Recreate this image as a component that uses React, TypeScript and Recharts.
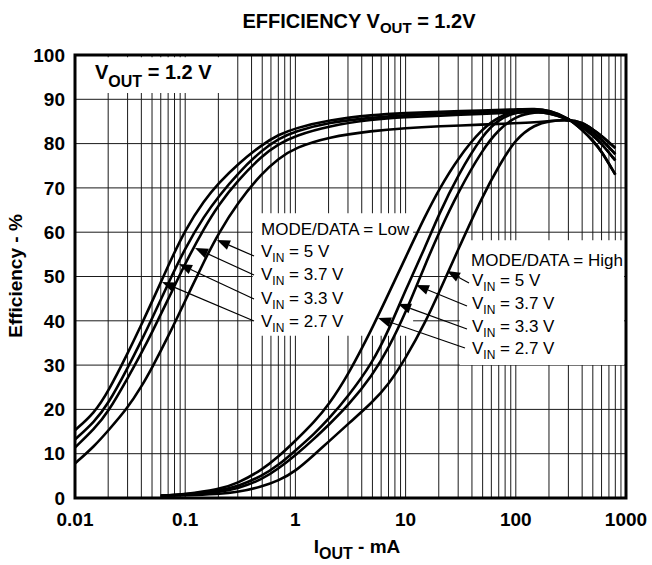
import { LineChart, Line, XAxis, YAxis, CartesianGrid, ReferenceArea } from 'recharts';

const FONT = "Arial, 'Liberation Sans', Helvetica, sans-serif";

// MODE/DATA = Low (PFM at light load), output current in mA
const lowIout = [0.01, 0.015, 0.02, 0.03, 0.04, 0.05, 0.07, 0.1, 0.15, 0.2, 0.3, 0.5, 0.7, 1, 2, 5, 10, 20, 50, 100, 150, 200, 300, 400, 500, 600, 800];
const lowEff27 = [15.3, 19.2, 24.0, 32.6, 39.1, 44.3, 52.4, 60.6, 67.3, 71.0, 75.4, 79.8, 82.0, 83.5, 85.3, 86.5, 86.9, 87.2, 87.5, 87.7, 87.9, 87.5, 85.8, 83.1, 80.7, 78.3, 73.0];
const lowEff33 = [13.2, 17.2, 21.2, 29.3, 35.5, 40.5, 48.4, 56.5, 63.8, 68.0, 73.3, 78.6, 81.1, 82.8, 84.8, 85.9, 86.4, 86.8, 87.1, 87.3, 87.6, 87.2, 85.6, 83.8, 81.9, 80.0, 76.2];
const lowEff37 = [11.4, 15.6, 19.4, 27.0, 32.7, 37.4, 44.8, 53.0, 61.1, 66.1, 71.7, 77.3, 79.9, 81.8, 84.0, 85.5, 86.0, 86.3, 86.7, 87.0, 87.2, 86.9, 85.5, 84.2, 82.6, 81.0, 77.6];
const lowEff50 = [7.8, 11.7, 15.2, 20.3, 25.1, 29.4, 36.4, 44.5, 53.7, 59.7, 66.7, 73.4, 76.6, 79.1, 81.5, 82.9, 83.5, 83.9, 84.3, 84.6, 84.8, 85.1, 85.4, 84.8, 83.2, 81.8, 79.0];

// MODE/DATA = High (forced PWM)
const highIout = [0.06, 0.1, 0.2, 0.3, 0.5, 0.7, 1, 1.5, 2, 3, 5, 7, 10, 15, 20, 30, 50, 70, 100, 150, 200, 300, 400, 500, 600, 800];
const highEff27 = [0.5, 0.85, 1.9, 3.3, 6.4, 9.3, 12.9, 17.3, 21.0, 27.7, 38.4, 46.1, 54.3, 63.6, 69.6, 76.8, 83.5, 86.0, 87.5, 87.9, 87.5, 85.8, 83.1, 80.7, 78.3, 73.0];
const highEff33 = [0.5, 0.8, 1.6, 2.6, 5.0, 7.4, 10.7, 14.6, 17.8, 22.9, 30.5, 37.8, 47.0, 56.5, 64.0, 73.0, 82.0, 85.5, 87.1, 87.6, 87.2, 85.6, 83.8, 81.9, 80.0, 76.2];
const highEff37 = [0.5, 0.7, 1.3, 2.1, 4.2, 6.6, 9.6, 13.5, 16.5, 20.8, 27.7, 33.8, 41.8, 52.6, 59.8, 69.1, 78.7, 83.2, 86.2, 87.2, 86.9, 85.5, 84.2, 82.6, 81.0, 77.6];
const highEff50 = [0.5, 0.6, 0.9, 1.3, 2.6, 3.9, 6.0, 9.9, 12.7, 16.7, 21.6, 25.6, 31.5, 39.5, 46.3, 56.1, 68.2, 74.9, 81.2, 84.3, 85.1, 85.4, 84.8, 83.2, 81.8, 79.0];

const xDecades = [0.01, 0.1, 1, 10, 100, 1000];
const xDecadeLabels = ['0.01', '0.1', '1', '10', '100', '1000'];
const yTicks = [0, 10, 20, 30, 40, 50, 60, 70, 80, 90, 100];
const vinLabels = ['5 V', '3.7 V', '3.3 V', '2.7 V'];

// every 1..9 step of each decade, so the grid gets its minor lines
const xGridTicks: number[] = [];
xDecades.slice(0, -1).forEach(d => {
    for (let k = 1; k < 10; k++) xGridTicks.push(Number((d * k).toPrecision(3)));
});
xGridTicks.push(1000);

const toPoints = (xs: number[], ys: number[]) => xs.map((x, i) => ({ x, y: ys[i] }));

const series = [
    { key: 'low27', data: toPoints(lowIout, lowEff27) },
    { key: 'low33', data: toPoints(lowIout, lowEff33) },
    { key: 'low37', data: toPoints(lowIout, lowEff37) },
    { key: 'low50', data: toPoints(lowIout, lowEff50) },
    { key: 'high27', data: toPoints(highIout, highEff27) },
    { key: 'high33', data: toPoints(highIout, highEff33) },
    { key: 'high37', data: toPoints(highIout, highEff37) },
    { key: 'high50', data: toPoints(highIout, highEff50) },
];

// annotation arrows (page pixels), same order as vinLabels
const lowArrows = [
    { tip: [217, 240], tail: [254, 256] },
    { tip: [195, 248], tail: [254, 275] },
    { tip: [179, 264], tail: [254, 299] },
    { tip: [162, 282], tail: [254, 321] },
];
const highArrows = [
    { tip: [447, 271], tail: [469, 283] },
    { tip: [416, 285], tail: [467, 306] },
    { tip: [398, 304], tail: [467, 329] },
    { tip: [378, 318], tail: [465, 348] },
];

function Arrow({ tip, tail }: { tip: number[]; tail: number[] }) {
    const [px, py] = tip;
    const [tx, ty] = tail;
    const len = Math.hypot(tx - px, ty - py);
    const ux = (tx - px) / len;
    const uy = (ty - py) / len;
    const hl = 13, hw = 5;
    const bx = px + ux * hl, by = py + uy * hl;
    const pts = `${px},${py} ${bx - uy * hw},${by + ux * hw} ${bx + uy * hw},${by - ux * hw}`;
    return (
        <g>
            <line x1={bx} y1={by} x2={tx} y2={ty} stroke="#000" strokeWidth={1.2} />
            <polygon points={pts} fill="#000" />
        </g>
    );
}

function VinText({ x, y, value }: { x: number; y: number; value: string }) {
    return (
        <text x={x} y={y} fontSize={17} fontFamily={FONT} fill="#000">
            <tspan>V</tspan>
            <tspan fontSize={12} dy={5}>IN</tspan>
            <tspan dy={-5}>{` = ${value}`}</tspan>
        </text>
    );
}

export default function App() {
    const tickStyle = { fill: '#000', fontSize: 19, fontWeight: 'bold', fontFamily: FONT };
    return (
        <div style={{ position: 'absolute', left: 0, top: 0, width: 652, height: 565, background: '#fff' }}>
            <LineChart width={652} height={565} margin={{ top: 55, right: 26, bottom: 0, left: 0 }}>
                <CartesianGrid stroke="#1a1a1a" strokeWidth={1} />
                <XAxis
                    dataKey="x"
                    type="number"
                    scale="log"
                    domain={[0.01, 1000]}
                    allowDataOverflow
                    ticks={xGridTicks}
                    interval={0}
                    tickFormatter={(v: number) => {
                        const i = xDecades.findIndex(d => Math.abs(d - v) < d * 1e-6);
                        return i >= 0 ? xDecadeLabels[i] : '';
                    }}
                    height={67}
                    tickSize={0}
                    tickMargin={15}
                    axisLine={false}
                    tick={tickStyle}
                />
                <YAxis
                    type="number"
                    domain={[0, 100]}
                    ticks={yTicks}
                    interval={0}
                    width={75}
                    tickSize={0}
                    tickMargin={10}
                    axisLine={false}
                    tick={tickStyle}
                />
                <ReferenceArea x1={0.0102} x2={0.215} y1={91.4} y2={99.5} fill="#fff" fillOpacity={1} stroke="none" />
                <ReferenceArea x1={0.41} x2={11.7} y1={36.6} y2={64.3} fill="#fff" fillOpacity={1} stroke="none" />
                <ReferenceArea x1={31} x2={960} y1={30} y2={58.2} fill="#fff" fillOpacity={1} stroke="none" />
                {series.map(s => (
                    <Line
                        key={s.key}
                        data={s.data}
                        dataKey="y"
                        type="basis"
                        stroke="#000"
                        strokeWidth={2.6}
                        dot={false}
                        activeDot={false}
                        isAnimationActive={false}
                    />
                ))}
                <ReferenceArea x1={0.01} x2={1000} y1={0} y2={100} fill="none" stroke="#000" strokeWidth={3} />
            </LineChart>

            <svg width={652} height={565} style={{ position: 'absolute', left: 0, top: 0, pointerEvents: 'none' }}>
                <text x={359} y={28} textAnchor="middle" fontSize={20} fontWeight="bold" fontFamily={FONT}>
                    <tspan>EFFICIENCY V</tspan>
                    <tspan fontSize={15} dy={5}>OUT</tspan>
                    <tspan dy={-5}> = 1.2V</tspan>
                </text>

                <text x={95} y={79} fontSize={20} fontWeight="bold" fontFamily={FONT}>
                    <tspan>V</tspan>
                    <tspan fontSize={16} dy={8}>OUT</tspan>
                    <tspan dy={-8}> = 1.2 V</tspan>
                </text>

                <text x={357} y={553} textAnchor="middle" fontSize={19} fontWeight="bold" fontFamily={FONT}>
                    <tspan>I</tspan>
                    <tspan fontSize={16} dy={6}>OUT</tspan>
                    <tspan dy={-6}> - mA</tspan>
                </text>

                <text
                    x={22}
                    y={276}
                    textAnchor="middle"
                    fontSize={19}
                    fontWeight="bold"
                    fontFamily={FONT}
                    transform="rotate(-90, 22, 276)"
                >
                    Efficiency - %
                </text>

                <text x={261} y={235} fontSize={17} fontFamily={FONT}>MODE/DATA = Low</text>
                {vinLabels.map((v, i) => (
                    <VinText key={'l' + v} x={261} y={257 + i * 23.3} value={v} />
                ))}
                {lowArrows.map((a, i) => <Arrow key={'la' + i} tip={a.tip} tail={a.tail} />)}

                <text x={471} y={266} fontSize={17} fontFamily={FONT}>MODE/DATA = High</text>
                {vinLabels.map((v, i) => (
                    <VinText key={'h' + v} x={472} y={286 + i * 22.8} value={v} />
                ))}
                {highArrows.map((a, i) => <Arrow key={'ha' + i} tip={a.tip} tail={a.tail} />)}
            </svg>
        </div>
    );
}
